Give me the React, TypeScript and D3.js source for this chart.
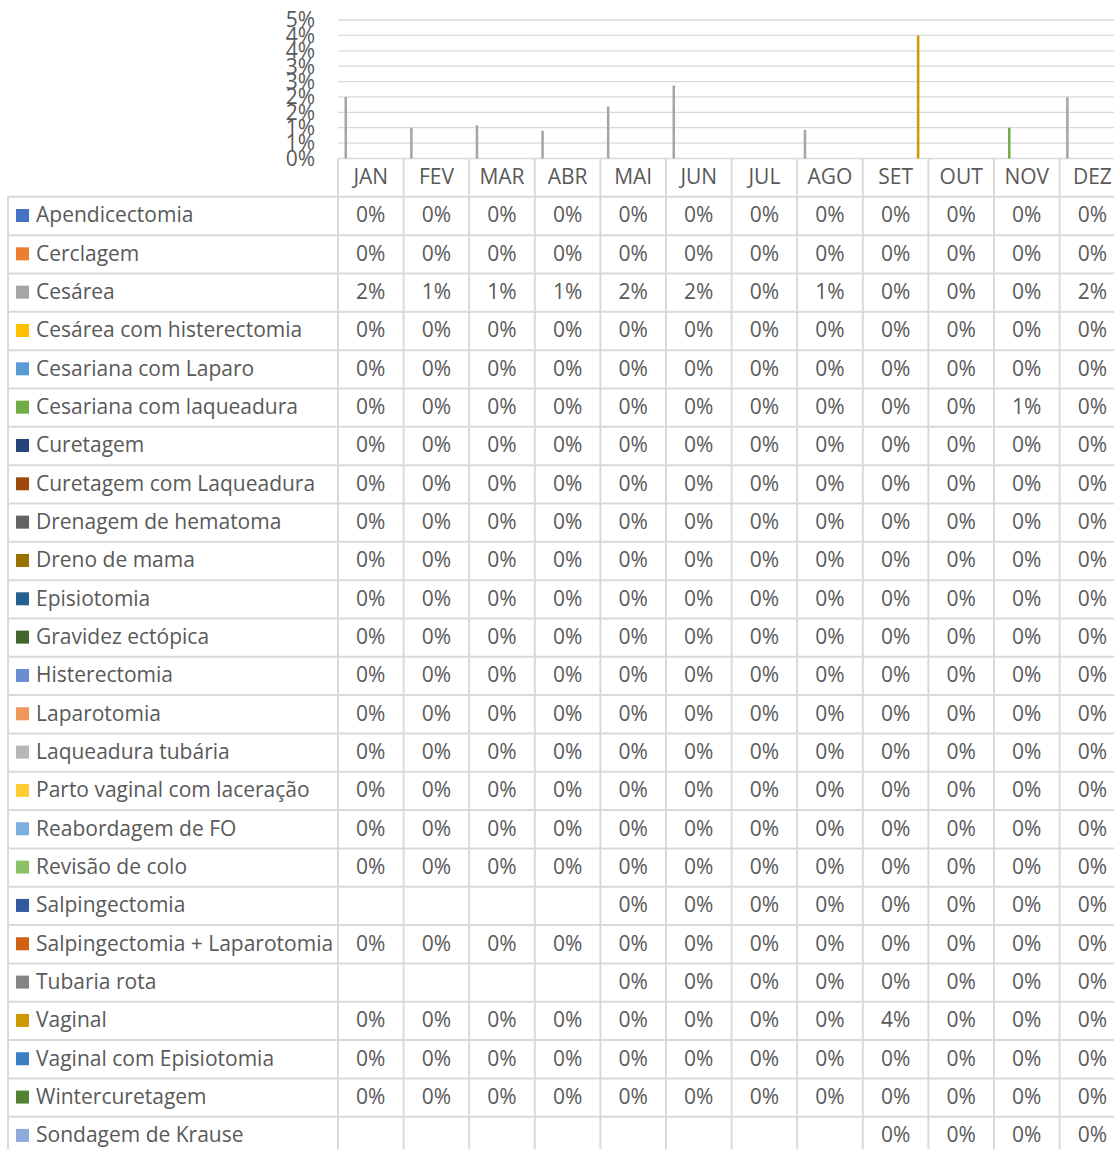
import * as d3 from 'd3'

const months = ['JAN', 'FEV', 'MAR', 'ABR', 'MAI', 'JUN', 'JUL', 'AGO', 'SET', 'OUT', 'NOV', 'DEZ']

const procedures = [
    'Apendicectomia',
    'Cerclagem',
    'Cesárea',
    'Cesárea com histerectomia',
    'Cesariana com Laparo',
    'Cesariana com laqueadura',
    'Curetagem',
    'Curetagem com Laqueadura',
    'Drenagem de hematoma',
    'Dreno de mama',
    'Episiotomia',
    'Gravidez ectópica',
    'Histerectomia',
    'Laparotomia',
    'Laqueadura tubária',
    'Parto vaginal com laceração',
    'Reabordagem de FO',
    'Revisão de colo',
    'Salpingectomia',
    'Salpingectomia + Laparotomia',
    'Tubaria rota',
    'Vaginal',
    'Vaginal com Episiotomia',
    'Wintercuretagem',
    'Sondagem de Krause',
]

const colors = [
    '#4472c4', '#ed7d31', '#a5a5a5', '#ffc000', '#5b9bd5', '#70ad47',
    '#264478', '#9e480e', '#636363', '#997300', '#255e91', '#43682b',
    '#698ed0', '#f1975a', '#b7b7b7', '#ffcd33', '#7cafdd', '#8cc168',
    '#335aa1', '#d26012', '#848484', '#cc9a00', '#3a7fc4', '#548235',
    '#8faadc',
]

// values in percent, null = empty cell
const values: (number | null)[][] = [
    [0, 0, 0, 0, 0, 0, 0, 0, 0, 0, 0, 0],
    [0, 0, 0, 0, 0, 0, 0, 0, 0, 0, 0, 0],
    [2.0, 1.0, 1.08, 0.9, 1.69, 2.37, 0, 0.93, 0, 0, 0, 1.99],
    [0, 0, 0, 0, 0, 0, 0, 0, 0, 0, 0, 0],
    [0, 0, 0, 0, 0, 0, 0, 0, 0, 0, 0, 0],
    [0, 0, 0, 0, 0, 0, 0, 0, 0, 0, 1.0, 0],
    [0, 0, 0, 0, 0, 0, 0, 0, 0, 0, 0, 0],
    [0, 0, 0, 0, 0, 0, 0, 0, 0, 0, 0, 0],
    [0, 0, 0, 0, 0, 0, 0, 0, 0, 0, 0, 0],
    [0, 0, 0, 0, 0, 0, 0, 0, 0, 0, 0, 0],
    [0, 0, 0, 0, 0, 0, 0, 0, 0, 0, 0, 0],
    [0, 0, 0, 0, 0, 0, 0, 0, 0, 0, 0, 0],
    [0, 0, 0, 0, 0, 0, 0, 0, 0, 0, 0, 0],
    [0, 0, 0, 0, 0, 0, 0, 0, 0, 0, 0, 0],
    [0, 0, 0, 0, 0, 0, 0, 0, 0, 0, 0, 0],
    [0, 0, 0, 0, 0, 0, 0, 0, 0, 0, 0, 0],
    [0, 0, 0, 0, 0, 0, 0, 0, 0, 0, 0, 0],
    [0, 0, 0, 0, 0, 0, 0, 0, 0, 0, 0, 0],
    [null, null, null, null, 0, 0, 0, 0, 0, 0, 0, 0],
    [0, 0, 0, 0, 0, 0, 0, 0, 0, 0, 0, 0],
    [null, null, null, null, 0, 0, 0, 0, 0, 0, 0, 0],
    [0, 0, 0, 0, 0, 0, 0, 0, 4.0, 0, 0, 0],
    [0, 0, 0, 0, 0, 0, 0, 0, 0, 0, 0, 0],
    [0, 0, 0, 0, 0, 0, 0, 0, 0, 0, 0, 0],
    [null, null, null, null, null, null, null, null, 0, 0, 0, 0],
]

const yTicks = [0, 0.5, 1, 1.5, 2, 2.5, 3, 3.5, 4, 4.5]

const App = () => {
    const width = 1114
    const height = 1149
    const font = '"Open Sans", "DejaVu Sans", sans-serif'
    const textColor = '#595959'
    const gridColor = '#d9d9d9'
    const fs = 21

    const tableLeft = 8
    const plotLeft = 338
    const colWidth = 65.6
    const headerTop = 158.5
    const rowH = 38.33
    const bodyTop = headerTop + rowH

    const x = d3.scaleBand<string>()
        .domain(months)
        .range([plotLeft, plotLeft + colWidth * months.length])

    const inner = d3.scaleBand<string>()
        .domain(procedures)
        .range([0, x.bandwidth()])
        .paddingOuter(0.6)

    const y = d3.scaleLinear()
        .domain([0, 4.5])
        .range([headerTop, 20])

    const rowY = d3.scaleBand<string>()
        .domain(procedures)
        .range([bodyTop, bodyTop + rowH * procedures.length])

    const fmt = (v: number) => `${Math.round(v)}%`
    const tableBottom = bodyTop + rowH * procedures.length

    return (
        <svg width={width} height={height} style={{ position: 'absolute', left: 0, top: 0 }}
            fontFamily={font}>
            <rect width={width} height={height} fill="#fff" />
            {/* gridlines */}
            {yTicks.map(t => (
                <line key={'g' + t} x1={plotLeft} x2={width} y1={y(t)} y2={y(t)}
                    stroke={gridColor} strokeWidth={1.3} />
            ))}
            {yTicks.map(t => (
                <text key={'yl' + t} x={315} y={y(t)} dy="0.35em" textAnchor="end"
                    fontSize={fs} fill={textColor}>{fmt(t)}</text>
            ))}
            {/* bars */}
            {procedures.map((p, i) => values[i].map((v, j) => v ? (
                <rect key={p + j} x={x(months[j])! + inner(p)!} width={inner.bandwidth()}
                    y={y(v)} height={y(0) - y(v)} fill={colors[i]} />
            ) : null))}
            {/* table lines */}
            {procedures.map(p => (
                <line key={'h' + p} x1={tableLeft} x2={width} y1={rowY(p)} y2={rowY(p)}
                    stroke={gridColor} strokeWidth={2} />
            ))}
            <line x1={tableLeft} x2={tableLeft} y1={bodyTop} y2={tableBottom + 20}
                stroke={gridColor} strokeWidth={2} />
            {months.map(m => (
                <line key={'v' + m} x1={x(m)} x2={x(m)} y1={headerTop} y2={tableBottom + 20}
                    stroke={gridColor} strokeWidth={2} />
            ))}
            <line x1={x(months[11])! + colWidth} x2={x(months[11])! + colWidth} y1={headerTop}
                y2={tableBottom + 20} stroke={gridColor} strokeWidth={2} />
            {/* header */}
            {months.map(m => (
                <text key={'m' + m} x={x(m)! + colWidth / 2} y={headerTop + rowH / 2 - 1} dy="0.35em"
                    textAnchor="middle" fontSize={fs} fill={textColor}>{m}</text>
            ))}
            {/* rows */}
            {procedures.map((p, i) => {
                const cy = rowY(p)! + rowH / 2 - 1
                return (
                    <g key={'r' + p}>
                        <rect x={16} y={cy - 6} width={13} height={13} fill={colors[i]} />
                        <text x={36} y={cy} dy="0.35em" fontSize={fs} fill={textColor}>{p}</text>
                        {values[i].map((v, j) => v === null ? null : (
                            <text key={j} x={x(months[j])! + colWidth / 2} y={cy} dy="0.35em"
                                textAnchor="middle" fontSize={fs} fill={textColor}>{fmt(v)}</text>
                        ))}
                    </g>
                )
            })}
        </svg>
    )
}

export default App
